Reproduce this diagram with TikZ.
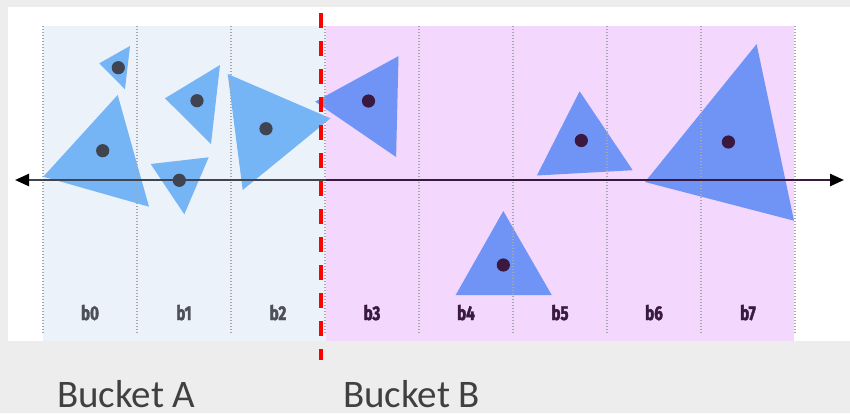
\documentclass[tikz,border=0pt]{standalone}
\usepackage{fontspec}
\usetikzlibrary{arrows.meta}
\newfontfamily\bucketfont{Carlito}
\newfontfamily\binfont[FakeStretch=0.76, BoldFeatures={FakeBold=2}]{Fira Sans}
\definecolor{pagegray}{HTML}{EDEDED}
\definecolor{regA}{HTML}{EBF2FA}
\definecolor{regB}{HTML}{F3D7FC}
\definecolor{triA}{HTML}{75B5F5}
\definecolor{triB}{HTML}{7094F5}
\definecolor{dotA}{HTML}{3F4450}
\definecolor{dotB}{HTML}{3A1840}
\definecolor{labA}{HTML}{4B505A}
\definecolor{labB}{HTML}{3A1A42}
\definecolor{sepgray}{HTML}{A6A6AE}
\definecolor{txtgray}{HTML}{404040}
\tikzset{
  trA/.style={fill=triA, draw=none},
  trB/.style={fill=triB, draw=none},
  ctrA/.style={fill=dotA, draw=none},
  ctrB/.style={fill=dotB, draw=none},
  binsep/.style={draw=sepgray, line width=1.4pt, dash pattern=on 1.4pt off 1.6pt},
  binlab/.style={font=\binfont\bfseries\fontsize{20}{20}\selectfont, anchor=base, inner sep=0pt},
  bucketlab/.style={font=\bucketfont\fontsize{39}{39}\selectfont, text=txtgray, anchor=base west, inner sep=0pt, text depth=0pt},
  axisline/.style={line width=2.4pt},
  axtip/.tip={Triangle[length=14pt 0 0,width=12pt 0 0,fill=black,color=black]},
}
\begin{document}
\begin{tikzpicture}[x=1pt,y=-1pt]
\useasboundingbox (0,0) rectangle (850,413);
\fill[pagegray] (0,0) rectangle (850,413);
\fill[white] (8,7) rectangle (850,340.5);
% regions
\fill[regA] (43,26) rectangle (325.5,340.5);
\fill[regB] (325.5,26) rectangle (793.5,340.5);
% triangles bucket A
\fill[trA] (99.3,63.3) -- (130,46) -- (125,89.3) -- cycle;
\fill[trA] (43.3,176.7) -- (117.7,95) -- (149,206.7) -- cycle;
\fill[trA] (165,98.3) -- (220,65) -- (211,144) -- cycle;
\fill[trA] (150.7,164) -- (208.7,157.3) -- (184.3,214.3) -- cycle;
% triangles bucket B
\fill[trB] (315.2,101.6) -- (398.5,56.1) -- (396.1,157) -- cycle;
\fill[trA] (227.7,74) -- (330.5,118.3) -- (242.7,190) -- cycle;
\fill[trB] (579.6,91.3) -- (632.7,170.2) -- (536.9,175.5) -- cycle;
\fill[trB] (756.6,44.1) -- (794,220.7) -- (645,182) -- cycle;
\fill[trB] (503.3,211) -- (551.7,295) -- (455.7,295) -- cycle;
% bin separators
\foreach \x in {43,137,231,325,419,513,607,701,795}
  \draw[binsep] (\x,26) -- (\x,333);
% axis
\coordinate (axL) at (15,180);
\coordinate (axM) at (325.5,180);
\coordinate (axR) at (844,180);
\draw[axisline, draw=dotA, axtip-] (axL) -- (axM);
\draw[axisline, draw=dotB, -axtip] (axM) -- (axR);
% centroids
\fill[ctrA] (118.3,67.7) circle (6.6);
\fill[ctrA] (102.7,150.7) circle (6.6);
\fill[ctrA] (197,100.7) circle (6.6);
\fill[ctrA] (179.3,180.3) circle (6.6);
\fill[ctrA] (266,128.7) circle (6.6);
\fill[ctrB] (368.5,101) circle (6.6);
\fill[ctrB] (581.3,140.5) circle (6.6);
\fill[ctrB] (728.4,142) circle (6.6);
\fill[ctrB] (503.3,265) circle (6.6);
% split line
\draw[red, line width=3.8pt, dash pattern=on 15pt off 13pt] (321,13.3) -- (321,360);
% bin labels
\foreach \i/\x in {0/90,1/184,2/278}
  \node[binlab, text=labA] (b\i) at (\x,320) {b\i};
\foreach \i/\x in {3/372,4/466,5/560,6/654,7/748}
  \node[binlab, text=labB] (b\i) at (\x,320) {b\i};
% bucket labels
\node[bucketlab] (bucketA) at (57,407) {Bucket A};
\node[bucketlab] (bucketB) at (343,407) {Bucket B};
\end{tikzpicture}
\end{document}
